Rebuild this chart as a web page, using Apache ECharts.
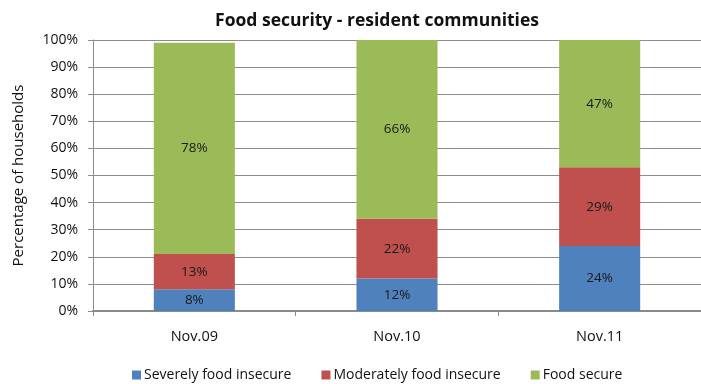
<!DOCTYPE html>
<html>
<head>
<meta charset="utf-8">
<script src="https://cdn.jsdelivr.net/npm/echarts@6/dist/echarts.min.js"></script>
<style>
  html, body { margin: 0; padding: 0; background: #fff; }
  #chart { width: 701px; height: 384px; }
</style>
</head>
<body>
<div id="chart"></div>
<script>
// Survey rounds and share of households in each food-security group (%)
const categories = ['Nov.09', 'Nov.10', 'Nov.11'];
const severelyInsecure = [8, 12, 24];
const moderatelyInsecure = [13, 22, 29];
const foodSecure = [78, 66, 47];
const yTicks = [0, 10, 20, 30, 40, 50, 60, 70, 80, 90, 100];

const FONT = '"Open Sans", Lato, sans-serif';
const GRID_COLOR = '#8c8c8c';

function stackSeries(name, data, color) {
  return {
    name: name,
    type: 'bar',
    stack: 'total',
    data: data,
    barWidth: '40%',
    itemStyle: { color: color },
    label: {
      show: true,
      position: 'inside',
      formatter: p => p.value + '%',
      color: '#1a1a1a',
      fontFamily: FONT,
      fontSize: 13.5
    },
    emphasis: { disabled: true }
  };
}

const chart = echarts.init(document.getElementById('chart'), null, { renderer: 'canvas' });
chart.setOption({
  animation: false,
  backgroundColor: '#ffffff',
  title: {
    text: 'Food security - resident communities',
    left: 372,
    top: 7,
    textAlign: 'center',
    textStyle: { fontFamily: FONT, fontSize: 17.5, fontWeight: 'bold', color: '#111' }
  },
  legend: {
    left: 132,
    top: 368,
    padding: 0,
    itemWidth: 9,
    itemHeight: 9,
    itemGap: 30,
    icon: 'rect',
    textStyle: { fontFamily: FONT, fontSize: 14, color: '#111', padding: [0, 0, 0, -2] },
    data: ['Severely food insecure', 'Moderately food insecure', 'Food secure']
  },
  grid: { left: 93, right: -13, top: 40, bottom: 73, containLabel: false },
  xAxis: {
    type: 'category',
    data: categories,
    boundaryGap: true,
    axisLine: { show: true, lineStyle: { color: '#8a8a8a', width: 2 } },
    axisTick: { show: true, length: 5, lineStyle: { color: '#8a8a8a' } },
    axisLabel: { fontFamily: FONT, fontSize: 14.5, color: '#111', margin: 18 }
  },
  yAxis: {
    type: 'value',
    min: yTicks[0],
    max: yTicks[yTicks.length - 1],
    interval: yTicks[1] - yTicks[0],
    name: 'Percentage of households',
    nameLocation: 'middle',
    nameRotate: 90,
    nameGap: 67,
    nameTextStyle: { fontFamily: FONT, fontSize: 15, color: '#111' },
    axisLine: { show: true, lineStyle: { color: GRID_COLOR, width: 1 } },
    axisTick: { show: true, length: 5, inside: false, lineStyle: { color: GRID_COLOR } },
    axisLabel: { fontFamily: FONT, fontSize: 14, color: '#111', margin: 15, formatter: v => v + '%' },
    splitLine: { show: true, lineStyle: { color: GRID_COLOR, width: 1 } }
  },
  series: [
    stackSeries('Severely food insecure', severelyInsecure, '#4f81bd'),
    stackSeries('Moderately food insecure', moderatelyInsecure, '#c0504d'),
    stackSeries('Food secure', foodSecure, '#9bbb59')
  ]
});
</script>
</body>
</html>
